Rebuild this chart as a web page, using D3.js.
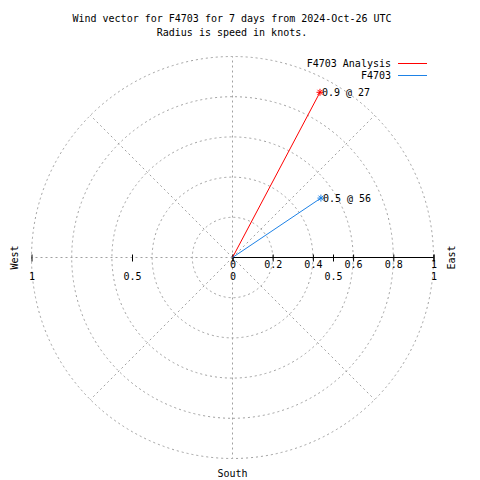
<!DOCTYPE html>
<html><head><meta charset="utf-8">
<script src="https://cdn.jsdelivr.net/npm/d3@7"></script>
<style>
html,body{margin:0;padding:0;background:#fff;}
text{font-family:"DejaVu Sans Mono",monospace;font-size:10px;fill:#000;}
</style></head>
<body>
<script>
// ---- data ----
const seriesNames = ["F4703 Analysis", "F4703"];
const speeds = [0.93, 0.53];          // knots
const directions = [27.9, 56.1];      // degrees, clockwise from north
const seriesColors = ["#ff0000", "#1e82e6"];
const gridRadii = [0.2, 0.4, 0.6, 0.8, 1.0];
const spokeAngles = [0, 45, 90, 135, 180, 225, 270, 315];
const axisTicks = [0, 0.2, 0.4, 0.6, 0.8, 1];
const rTicks = [-1, -0.5, 0, 0.5, 1];
const titleLines = ["Wind vector for F4703 for 7 days from 2024-Oct-26 UTC", "Radius is speed in knots."];

// ---- layout ----
const W = 480, H = 480, cx = 232.5, cy = 257.5, R = 201;
const svg = d3.select("body").append("svg").attr("width", W).attr("height", H);

const r = d3.scaleLinear().domain([0, 1]).range([0, R]);
const xFull = d3.scaleLinear().domain([-1, 1]).range([cx - R, cx + R]);
const xRight = d3.scaleLinear().domain([0, 1]).range([cx, cx + R]);
const toXY = (spd, deg) => {
  const a = deg * Math.PI / 180;
  return [cx + r(spd) * Math.sin(a), cy - r(spd) * Math.cos(a)];
};

const grid = svg.append("g").attr("fill", "none").attr("stroke", "#a0a0a0")
  .attr("stroke-width", 1).attr("stroke-dasharray", "2,3");
grid.selectAll("circle").data(gridRadii).join("circle")
  .attr("cx", cx).attr("cy", cy).attr("r", d => r(d));
grid.selectAll("line").data(spokeAngles).join("line")
  .attr("x1", cx).attr("y1", cy)
  .attr("x2", d => toXY(1, d)[0]).attr("y2", d => toXY(1, d)[1]);

// right axis (0..1)
const ax = svg.append("g").attr("transform", `translate(0,${cy})`)
  .call(d3.axisBottom(xRight).tickValues(axisTicks).tickFormat(d3.format("")).tickSizeOuter(0));
ax.select(".domain").attr("stroke", "#000").attr("d", `M${cx},0H${cx + R}`);
ax.selectAll(".tick line").attr("y1", -3).attr("y2", 4).attr("stroke", "#000");
ax.selectAll(".tick text").attr("y", 10).attr("dy", 0).style("font-family", "DejaVu Sans Mono")
  .style("font-size", "10px");

// r axis ticks (both sides)
const ax2 = svg.append("g").attr("transform", `translate(0,${cy})`)
  .call(d3.axisBottom(xFull).tickValues(rTicks).tickFormat(d => d3.format("")(Math.abs(d))).tickSizeOuter(0));
ax2.select(".domain").remove();
ax2.selectAll(".tick line").attr("y1", -3).attr("y2", 4).attr("stroke", "#000");
ax2.selectAll(".tick text").attr("y", 22.5).attr("dy", 0).style("font-family", "DejaVu Sans Mono")
  .style("font-size", "10px");

// compass labels
svg.append("text").attr("transform", `translate(17.5,${cy}) rotate(-90)`).attr("text-anchor", "middle").text("West");
svg.append("text").attr("transform", `translate(454.5,${cy}) rotate(-90)`).attr("text-anchor", "middle").text("East");
svg.append("text").attr("x", cx).attr("y", 477).attr("text-anchor", "middle").text("South");

// vectors
const vec = svg.append("g");
seriesNames.forEach((name, i) => {
  const [tx, ty] = toXY(speeds[i], directions[i]);
  vec.append("line").attr("x1", cx).attr("y1", cy).attr("x2", tx).attr("y2", ty)
    .attr("stroke", seriesColors[i]).attr("stroke-width", 1);
  [0, 45, 90, 135].forEach(a => {
    const rad = a * Math.PI / 180, s = 3.5;
    vec.append("line")
      .attr("x1", tx - s * Math.cos(rad)).attr("y1", ty - s * Math.sin(rad))
      .attr("x2", tx + s * Math.cos(rad)).attr("y2", ty + s * Math.sin(rad))
      .attr("stroke", seriesColors[i]).attr("stroke-width", 1);
  });
  vec.append("text").attr("x", tx + 2).attr("y", ty + 3.5)
    .text(`${speeds[i].toFixed(1)} @ ${Math.floor(directions[i])}`);
});

// legend
const lg = svg.append("g");
seriesNames.forEach((name, i) => {
  const y = 63.5 + i * 12;
  lg.append("text").attr("x", 391).attr("y", y + 3.5).attr("text-anchor", "end").text(name);
  lg.append("line").attr("x1", 398).attr("x2", 427).attr("y1", y).attr("y2", y)
    .attr("stroke", seriesColors[i]).attr("stroke-width", 1.2)
    .attr("shape-rendering", "crispEdges");
});

// title
svg.append("g").selectAll("text").data(titleLines).join("text")
  .attr("x", 232).attr("y", (d, i) => 22 + i * 13.5).attr("text-anchor", "middle").text(d => d);
</script>
</body></html>
